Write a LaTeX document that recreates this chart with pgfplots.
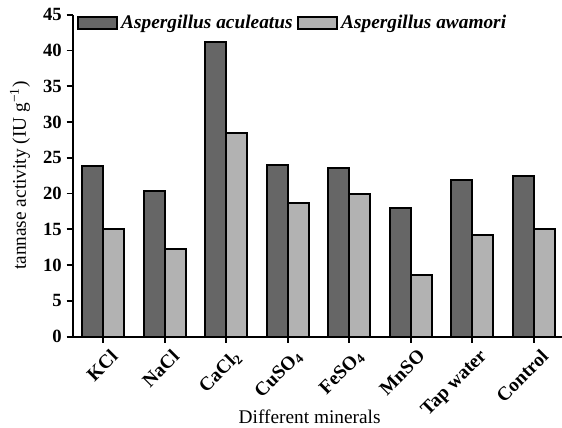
\documentclass[border=0pt]{standalone}
\usepackage{fontspec}
\setmainfont{Liberation Serif}
\usepackage{pgfplots}
\pgfplotsset{compat=1.18}
\definecolor{darkbar}{HTML}{666666}
\definecolor{lightbar}{HTML}{B2B2B2}
\begin{document}
\begin{tikzpicture}
\path[use as bounding box] (-54.4pt,-68.5pt) rectangle (367.1pt,252.5pt);
\begin{axis}[
  scale only axis, width=369pt, height=241.5pt,
  xmin=-0.5, xmax=7.5, ymin=0, ymax=45,
  axis x line*=bottom, axis y line*=left,
  axis line style={line width=1.5pt, black},
  ybar=0pt, bar width=0.34,
  xtick={0,1,2,3,4,5,6,7},
  xticklabels={KCl,NaCl,CaCl\textsubscript{2},CuSO\textsubscript{4},FeSO\textsubscript{4},MnSO,Tap water,Control},
  x tick label style={rotate=45, anchor=north east, inner sep=0pt, xshift=0.5pt, yshift=-6pt,
    font=\bfseries\fontsize{14.5}{16}\selectfont},
  ytick={0,5,...,45},
  y tick label style={font=\bfseries\fontsize{14}{16}\selectfont},
  /pgf/number format/assume math mode=true,
  tick align=outside, major tick length=4.5pt,
  tick style={line width=1.3pt, black},
  xlabel={Different minerals},
  xlabel style={at={(axis description cs:0.482,-0.248)}, anchor=center,
    font=\fontsize{14.5}{16}\selectfont},
  ylabel={tannase activity (IU g\textsuperscript{−1})},
  ylabel style={at={(axis description cs:-0.1067,0.5)}, anchor=center,
    font=\fontsize{14.5}{16}\selectfont},
  legend columns=2,
  legend style={at={(axis description cs:0.009,0.975)}, anchor=west,
    draw=none, fill=none, inner sep=0pt,
    font=\bfseries\itshape\fontsize{14.5}{16}\selectfont,
    nodes={inner sep=2.5pt},
    /tikz/every even column/.append style={column sep=1pt}},
  legend image code/.code={\draw[#1, line width=1.5pt] (0pt,-4.5pt) rectangle (29pt,4.5pt);},
]
\addplot[fill=darkbar, draw=black, line width=1.6pt] coordinates {
  (0,23.9) (1,20.3) (2,41.2) (3,24.05) (4,23.6) (5,18.0) (6,21.9) (7,22.5)};
\addlegendentry{Aspergillus aculeatus}
\addplot[fill=lightbar, draw=black, line width=1.6pt] coordinates {
  (0,15.1) (1,12.3) (2,28.5) (3,18.7) (4,19.9) (5,8.6) (6,14.2) (7,15.1)};
\addlegendentry{Aspergillus awamori}
\end{axis}
\end{tikzpicture}
\end{document}
